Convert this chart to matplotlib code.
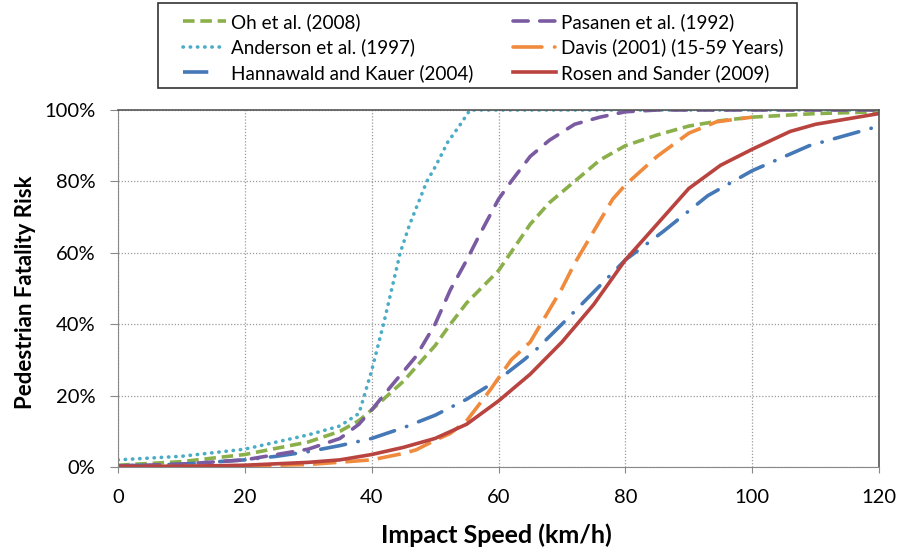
import matplotlib.pyplot as plt
from matplotlib.lines import Line2D
from matplotlib.patches import Rectangle
from matplotlib.ticker import PercentFormatter

plt.rcParams['font.family'] = ['Lato', 'DejaVu Sans']

# Impact speed (km/h) vs fatality risk (%)
oh_x = [0, 10, 20, 30, 35, 38, 40, 45, 50, 52.4, 55, 60, 65, 68, 72, 76, 80, 85, 90, 95, 100, 110, 120]
oh_y = [0.5, 1.5, 3.5, 7, 10, 13, 16, 24, 34, 40, 46, 55, 68, 74, 80, 86, 90, 93, 95.5, 97, 98, 99, 99.5]

anderson_x = [0, 10, 20, 30, 35, 38, 40, 42, 44.5, 46, 48.7, 50, 52, 54, 55.5, 60, 120]
anderson_y = [2, 3, 5, 9, 11.5, 15, 27, 41, 60, 68, 80, 84, 91, 96, 100, 100, 100]

hannawald_x = [0, 10, 20, 25, 30, 35, 40, 45, 50, 55, 60, 64, 66, 70, 75, 80, 86, 93, 100, 109, 120]
hannawald_y = [0.3, 0.8, 2, 3, 4.3, 6, 8, 11, 14.5, 19, 24.5, 30, 33, 40, 49, 58, 66, 76, 83, 90, 95.5]

pasanen_x = [0, 10, 20, 30, 35, 38, 40, 43, 47, 50, 52.4, 55, 57, 60, 62, 65, 68, 72, 76, 80, 85, 120]
pasanen_y = [0.3, 0.8, 2, 5, 8, 12, 16, 22.5, 31, 40, 49.6, 58, 65, 75, 80, 87, 91.5, 96, 98, 99.5, 100, 100]

davis_x = [0, 20, 30, 40, 45, 47, 50, 52.4, 55, 58.7, 62, 65, 67, 70, 72, 75, 78, 80, 85, 90, 94.4, 100]
davis_y = [0, 0.3, 0.7, 2, 3.8, 4.8, 7.5, 9.4, 13, 21.6, 30, 35, 41, 50, 57, 66, 75, 79, 87, 93.5, 96.7, 98]

rosen_x = [0, 10, 20, 30, 35, 40, 45, 50, 55, 60, 65, 70, 75, 80, 85, 90, 95, 100, 106, 110, 115, 120]
rosen_y = [0.2, 0.2, 0.5, 1.3, 2, 3.5, 5.5, 8, 12, 18.5, 26, 35, 45.5, 58, 68, 78, 84.5, 89, 94, 96, 97.5, 99]

labels = ['Oh et al. (2008)', 'Anderson et al. (1997)', 'Hannawald and Kauer (2004)',
          'Pasanen et al. (1992)', 'Davis (2001) (15-59 Years)', 'Rosen and Sander (2009)']

c_oh, c_and, c_han = '#8BB04B', '#4AACC6', '#4478B6'
c_pas, c_dav, c_ros = '#7A5AA0', '#F08A3C', '#B9433F'

fig = plt.figure(figsize=(8.99, 5.48), dpi=100)
W, H = 899, 548
ax = fig.add_axes([118 / W, 81 / H, 761 / W, 357 / H])

lw = 2.6
ax.plot(oh_x, oh_y, color=c_oh, lw=lw, dashes=(3.2, 1.6))
ax.plot(anderson_x, anderson_y, color=c_and, lw=lw, dashes=(0.1, 1.9), dash_capstyle='round')
ax.plot(hannawald_x, hannawald_y, color=c_han, lw=lw, dashes=(7, 3.5, 0.1, 3.5), dash_capstyle='round')
ax.plot(pasanen_x, pasanen_y, color=c_pas, lw=lw, dashes=(4.2, 3.2), dash_capstyle='round')
ax.plot(davis_x, davis_y, color=c_dav, lw=lw, dashes=(6.5, 2.5))
ax.plot(rosen_x, rosen_y, color=c_ros, lw=lw)

ax.set_xlim(0, 120)
ax.set_ylim(0, 100)
ax.set_xticks(range(0, 121, 20))
ax.set_yticks(range(0, 101, 20))
ax.yaxis.set_major_formatter(PercentFormatter(decimals=0))
ax.grid(True, color='#9a9a9a', linestyle=(0, (1, 1.5)), linewidth=0.9)
ax.tick_params(axis='y', labelsize=14.5, length=5.8, color='#888888', pad=10.5)
ax.tick_params(axis='x', labelsize=14.5, length=4.5, color='#888888', pad=11)
for s in ['left', 'bottom']:
    ax.spines[s].set_color('#888888')
for s in ['top', 'right']:
    ax.spines[s].set_color('#555555')
    ax.spines[s].set_linewidth(1.2)

ax.set_xlabel('Impact Speed (km/h)', fontsize=18, fontweight='bold')
ax.xaxis.set_label_coords(0.497, (467 - 535) / 357)
ax.xaxis.label.set_va('center')
ax.set_ylabel('Pedestrian Fatality Risk', fontsize=16, fontweight='bold')
ax.yaxis.set_label_coords((25 - 118) / 761, 0.49)
ax.yaxis.label.set_va('center')

# legend handles drawn like the reference key
h_left = [
    Line2D([], [], color=c_oh, lw=lw, dashes=(3.2, 1.6)),
    Line2D([], [], color=c_and, lw=lw, dashes=(0.1, 1.9), dash_capstyle='round'),
    Line2D([], [], color=c_han, lw=lw, dashes=(7, 20)),
]
h_right = [
    Line2D([], [], color=c_pas, lw=lw, dashes=(4.2, 3.2), dash_capstyle='round'),
    Line2D([], [], color=c_dav, lw=lw, dashes=(8, 3.5, 0.1, 10), dash_capstyle='round'),
    Line2D([], [], color=c_ros, lw=lw),
]
common = dict(loc='upper left', fontsize=13.6, frameon=False, handlelength=2.3,
              handletextpad=0.25, labelspacing=0.4, borderpad=0, borderaxespad=0)
leg1 = fig.legend(handles=h_left, labels=labels[:3], bbox_to_anchor=(183 / W, 1 - 13 / H), **common)
leg2 = fig.legend(handles=h_right, labels=labels[3:], bbox_to_anchor=(513 / W, 1 - 13 / H), **common)
fig.patches.append(Rectangle((158 / W, 1 - 88 / H), (797 - 158) / W, 85 / H, transform=fig.transFigure,
                             fill=False, edgecolor='#333333', linewidth=1.2))

fig.savefig('out.png', dpi=100)
